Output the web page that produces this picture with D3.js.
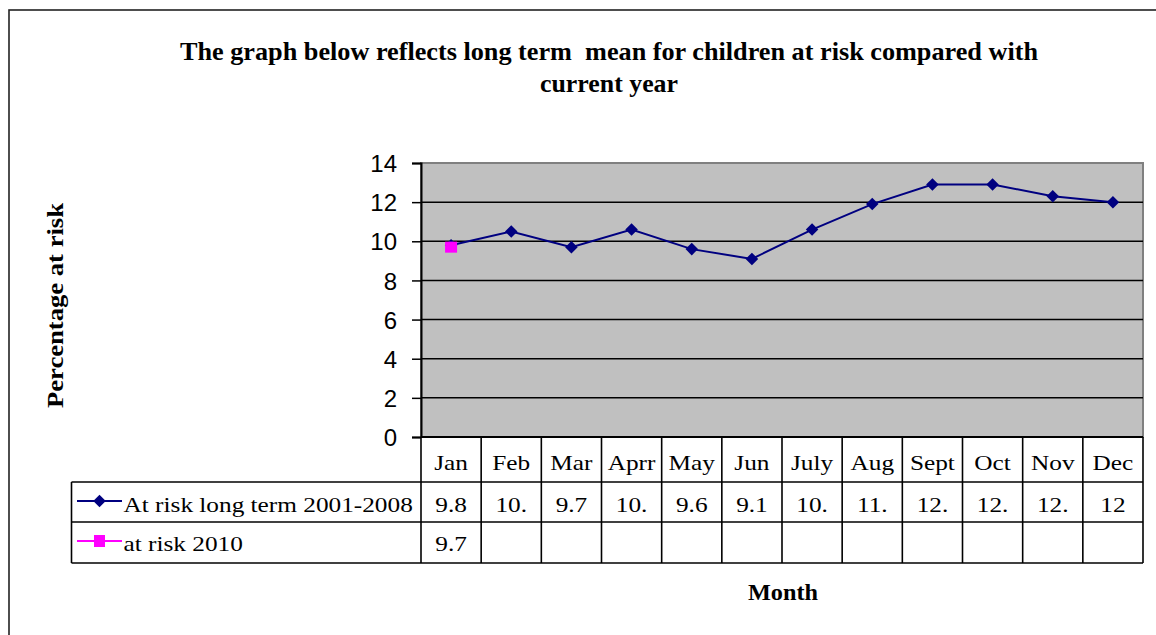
<!DOCTYPE html>
<html><head><meta charset="utf-8">
<script src="https://cdn.jsdelivr.net/npm/d3@7/dist/d3.min.js"></script>
<style>html,body{margin:0;padding:0;background:#fff;}svg{display:block;}</style>
</head><body>
<script>
const months = ["Jan","Feb","Mar","Aprr","May","Jun","July","Aug","Sept","Oct","Nov","Dec"];
const longTerm = [9.8,10.5,9.7,10.6,9.6,9.1,10.6,11.9,12.9,12.9,12.3,12];
const risk2010 = [9.7,null,null,null,null,null,null,null,null,null,null,null];
const seriesNames = ["At risk long term 2001-2008","at risk 2010"];
const yTicks = [0,2,4,6,8,10,12,14];
const titleLines = ["The graph below reflects long term  mean for children at risk compared with","current year"];

const W=1156,H=635;
const svg=d3.select("body").append("svg").attr("width",W).attr("height",H);
const serif="'Liberation Serif','Times New Roman',serif";
const sans="'Liberation Sans',Arial,sans-serif";
const SX=1.15;

svg.append("rect").attr("x",9).attr("y",10).attr("width",1300).attr("height",800)
  .attr("fill","none").attr("stroke","#222").attr("stroke-width",1.6);

const x=d3.scaleBand().domain(months).range([421,1143]).padding(0);
const y=d3.scaleLinear().domain([0,14]).range([437,163]);

svg.append("rect").attr("x",421).attr("y",y(14)).attr("width",1143-421).attr("height",y(0)-y(14))
  .attr("fill","#c0c0c0").attr("stroke","#808080").attr("stroke-width",2);

svg.append("g").selectAll("line").data(yTicks.filter(d=>d>0&&d<14)).join("line")
  .attr("x1",421).attr("x2",1143).attr("y1",d=>y(d)).attr("y2",d=>y(d))
  .attr("stroke","#000").attr("stroke-width",1.5);

const yAxis=svg.append("g").attr("transform","translate(421,0)")
  .call(d3.axisLeft(y).tickValues(yTicks).tickSize(9).tickPadding(15).tickFormat(d3.format("d")));
yAxis.select(".domain").attr("stroke","#000").attr("stroke-width",2);
yAxis.selectAll(".tick line").attr("stroke","#000").attr("stroke-width",1.5);
yAxis.selectAll("text").attr("font-family",sans).attr("font-size",24).attr("fill","#000").attr("dy","0.36em");

const tLeft=71.5, rowY=[437,482,522,563];
const tg=svg.append("g");
tg.append("rect").attr("x",421).attr("y",rowY[0]).attr("width",1143-421).attr("height",rowY[1]-rowY[0]).attr("fill","#fff");
tg.append("rect").attr("x",tLeft).attr("y",rowY[1]).attr("width",1143-tLeft).attr("height",rowY[3]-rowY[1]).attr("fill","#fff");
tg.append("line").attr("x1",421).attr("x2",1143).attr("y1",437).attr("y2",437).attr("stroke","#000").attr("stroke-width",2);
[rowY[1],rowY[2],rowY[3]].forEach(yy=>{
  tg.append("line").attr("x1",tLeft).attr("x2",1143).attr("y1",yy).attr("y2",yy).attr("stroke","#000").attr("stroke-width",1.6);
});
tg.append("line").attr("x1",tLeft).attr("x2",tLeft).attr("y1",rowY[1]).attr("y2",rowY[3]).attr("stroke","#000").attr("stroke-width",1.6);
const bounds=months.map(m=>x(m)).concat([x(months[months.length-1])+x.bandwidth()]);
tg.selectAll("line.v").data(bounds).join("line").attr("class","v")
  .attr("x1",d=>d).attr("x2",d=>d).attr("y1",rowY[0]).attr("y2",rowY[3])
  .attr("stroke","#000").attr("stroke-width",1.6);

const cx=(i)=>x(months[i])+x.bandwidth()/2;
const stretched=(sel,fx,fy)=>sel.attr("transform",(d,i)=>`translate(${fx(d,i)},${fy(d,i)}) scale(${SX},1)`)
  .attr("font-family",serif).attr("font-size",22).attr("fill","#000");

stretched(tg.selectAll("text.cat").data(months).join("text").attr("class","cat").attr("text-anchor","middle").text(d=>d),
  (d,i)=>cx(i),()=>469.5);
const disp=v=>v==null?"":String(v).slice(0,3);
stretched(tg.selectAll("text.v1").data(longTerm).join("text").attr("class","v1").attr("text-anchor","middle").text(disp),
  (d,i)=>cx(i),()=>511.5);
stretched(tg.selectAll("text.v2").data(risk2010).join("text").attr("class","v2").attr("text-anchor","middle").text(disp),
  (d,i)=>cx(i),()=>550.5);

const diamond=d3.symbol().type(d3.symbolDiamond2).size(100);
tg.append("line").attr("x1",77).attr("x2",122).attr("y1",501).attr("y2",501).attr("stroke","#000080").attr("stroke-width",2);
tg.append("path").attr("d",diamond()).attr("transform","translate(99.5,501)").attr("fill","#000080");
tg.append("line").attr("x1",77).attr("x2",122).attr("y1",541).attr("y2",541).attr("stroke","#ff00ff").attr("stroke-width",2);
tg.append("rect").attr("x",94).attr("y",535).attr("width",11).attr("height",12).attr("fill","#ff00ff");
stretched(tg.selectAll("text.leg").data(seriesNames).join("text").attr("class","leg").text(d=>d),
  ()=>123.5,(d,i)=>i===0?511.5:550.5);

const line=d3.line().defined(d=>d!=null).x((d,i)=>cx(i)).y(d=>y(d));
svg.append("path").attr("d",line(longTerm)).attr("fill","none").attr("stroke","#000080").attr("stroke-width",2);
svg.append("g").selectAll("path").data(longTerm).join("path")
  .attr("d",diamond()).attr("transform",(d,i)=>`translate(${cx(i)},${y(d)})`).attr("fill","#000080");
svg.append("g").selectAll("rect").data(risk2010.map((v,i)=>({v,i})).filter(d=>d.v!=null)).join("rect")
  .attr("x",d=>cx(d.i)-6).attr("y",d=>y(d.v)-5.5).attr("width",12).attr("height",11).attr("fill","#ff00ff");

const titleW=[858,138];
svg.selectAll("text.title").data(titleLines).join("text").attr("class","title")
  .attr("x",(d,i)=>609-titleW[i]/2).attr("y",(d,i)=>59.5+i*32)
  .attr("textLength",(d,i)=>titleW[i]).attr("lengthAdjust","spacingAndGlyphs")
  .attr("font-family",serif).attr("font-weight","bold").attr("font-size",24.5)
  .attr("xml:space","preserve").text(d=>d);

svg.append("text").attr("transform","translate(63,408) rotate(-90)")
  .attr("textLength",205).attr("lengthAdjust","spacingAndGlyphs")
  .attr("font-family",serif).attr("font-weight","bold").attr("font-size",24).text("Percentage at risk");
svg.append("text").attr("x",748).attr("y",600).attr("textLength",70).attr("lengthAdjust","spacingAndGlyphs")
  .attr("font-family",serif).attr("font-weight","bold").attr("font-size",24).text("Month");
</script>
</body></html>
